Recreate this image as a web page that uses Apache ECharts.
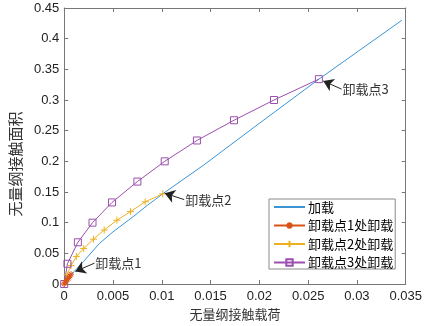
<!DOCTYPE html>
<html>
<head>
<meta charset="utf-8">
<script src="https://cdn.jsdelivr.net/npm/echarts@6/dist/echarts.min.js"></script>
<style>
  html, body { margin: 0; padding: 0; background: #fff; }
  #main { width: 425px; height: 326px; }
</style>
</head>
<body>
<div id="main"></div>
<script>
// loading curve
const loadX = [0, 0.0005, 0.001, 0.002, 0.0036, 0.005, 0.007, 0.0085, 0.0101, 0.0143, 0.02, 0.0261, 0.0346]
const loadY = [0, 0.011, 0.02, 0.037, 0.066, 0.085, 0.109, 0.128, 0.147, 0.194, 0.262, 0.334, 0.43]
// unloading at point 1
const un1X = [0, 0.0001, 0.0002, 0.0003, 0.0004, 0.0005, 0.0006, 0.0007]
const un1Y = [0, 0.003, 0.005, 0.007, 0.009, 0.011, 0.013, 0.016]
// unloading at point 2
const un2X = [0, 0.0003, 0.0007, 0.00125, 0.002, 0.003, 0.0041, 0.0054, 0.0068, 0.0083, 0.0101]
const un2Y = [0, 0.015, 0.03, 0.045, 0.058, 0.073, 0.088, 0.104, 0.118, 0.134, 0.147]
// unloading at point 3
const un3X = [0, 0.00033, 0.0014, 0.0029, 0.0049, 0.0075, 0.0103, 0.0136, 0.0174, 0.0215, 0.0261]
const un3Y = [0, 0.033, 0.068, 0.1, 0.133, 0.167, 0.2, 0.234, 0.267, 0.3, 0.334]
// annotations: [tailX, tailY, tipX, tipY, text]
const notes = [
  [0.0031, 0.034, 0.00115, 0.0205, '卸载点1'],
  [0.0123, 0.1376, 0.0103, 0.148, '卸载点2'],
  [0.02843, 0.3177, 0.02655, 0.331, '卸载点3']
]
const seriesNames = ['加载', '卸载点1处卸载', '卸载点2处卸载', '卸载点3处卸载']

const zip = (xs, ys) => xs.map((x, i) => [x, ys[i]])
const cjk = '"Noto Sans CJK SC", sans-serif'
const latin = '"Liberation Sans", Arial, sans-serif'
const axisGray = '#777'

const myChart = echarts.init(document.getElementById('main'))
const option = {
  animation: false,
  grid: { left: 50, right: 19, top: 8, bottom: 39 },
  legend: {
    data: [
      { name: seriesNames[0], itemStyle: { opacity: 0 } },
      seriesNames[1], seriesNames[2], seriesNames[3]
    ],
    orient: 'vertical',
    left: 269,
    top: 199,
    itemWidth: 31,
    itemHeight: 8,
    itemGap: 5.5,
    padding: [1.5, 2, 0, 4],
    backgroundColor: '#fff',
    borderColor: '#8a8a8a',
    borderWidth: 1,
    borderRadius: 0,
    textStyle: { fontFamily: cjk, fontSize: 13, color: '#000', padding: [0, 0, 0, -2] }
  },
  xAxis: [
    {
      type: 'value',
      min: 0,
      max: 0.035,
      interval: 0.005,
      name: '无量纲接触载荷',
      nameLocation: 'middle',
      nameGap: 24,
      nameTextStyle: { fontFamily: cjk, fontSize: 13, color: '#333' },
      axisLine: { show: true, onZero: false, lineStyle: { color: axisGray } },
      axisTick: { inside: true, length: 4, lineStyle: { color: axisGray } },
      axisLabel: { fontFamily: latin, fontSize: 13, color: '#222', margin: 6 },
      splitLine: { show: false }
    },
    {
      type: 'value',
      position: 'top',
      min: 0,
      max: 0.035,
      interval: 0.005,
      axisLine: { show: true, onZero: false, lineStyle: { color: axisGray } },
      axisTick: { inside: true, length: 4, lineStyle: { color: axisGray } },
      axisLabel: { show: false },
      splitLine: { show: false }
    }
  ],
  yAxis: [
    {
      type: 'value',
      min: 0,
      max: 0.45,
      interval: 0.05,
      name: '无量纲接触面积',
      nameLocation: 'middle',
      nameGap: 37,
      nameTextStyle: { fontFamily: cjk, fontSize: 15, color: '#333', padding: [0, 36, 0, 0] },
      axisLine: { show: true, onZero: false, lineStyle: { color: axisGray } },
      axisTick: { inside: true, length: 4, lineStyle: { color: axisGray } },
      axisLabel: { fontFamily: latin, fontSize: 13, color: '#222', margin: 5 },
      splitLine: { show: false }
    },
    {
      type: 'value',
      position: 'right',
      min: 0,
      max: 0.45,
      interval: 0.05,
      axisLine: { show: true, onZero: false, lineStyle: { color: axisGray } },
      axisTick: { inside: true, length: 4, lineStyle: { color: axisGray } },
      axisLabel: { show: false },
      splitLine: { show: false }
    }
  ],
  series: [
    {
      name: seriesNames[0],
      type: 'line',
      color: '#3b95d3',
      showSymbol: false,
      symbol: 'none',
      lineStyle: { color: '#3b95d3', width: 1 },
      data: zip(loadX, loadY),
      z: 2
    },
    {
      name: seriesNames[1],
      type: 'line',
      color: '#D95319',
      symbol: 'path://M0,5L10,5M5,0L5,10M1.5,1.5L8.5,8.5M8.5,1.5L1.5,8.5',
      symbolSize: 6,
      itemStyle: { color: 'rgba(0,0,0,0)', borderColor: '#D95319', borderWidth: 1 },
      lineStyle: { color: '#D95319', width: 1 },
      data: zip(un1X, un1Y),
      z: 4
    },
    {
      name: seriesNames[2],
      type: 'line',
      color: '#EDB120',
      symbol: 'path://M0,5L10,5M5,0L5,10',
      symbolSize: 7,
      itemStyle: { color: 'rgba(0,0,0,0)', borderColor: '#EDB120', borderWidth: 1 },
      lineStyle: { color: '#EDB120', width: 1 },
      data: zip(un2X, un2Y),
      z: 3
    },
    {
      name: seriesNames[3],
      type: 'line',
      color: '#9b4fae',
      symbol: 'rect',
      symbolSize: 7,
      itemStyle: { color: 'rgba(0,0,0,0)', borderColor: '#9b4fae', borderWidth: 1 },
      lineStyle: { color: '#9b4fae', width: 1 },
      data: zip(un3X, un3Y),
      z: 3
    },
    {
      name: 'notes',
      type: 'line',
      data: [],
      z: 5,
      markLine: {
        silent: true,
        symbol: ['none', 'arrow'],
        symbolSize: 10,
        lineStyle: { color: '#222', width: 1, type: 'solid' },
        itemStyle: { color: '#000' },
        label: {
          show: true,
          position: 'start',
          distance: 1,
          fontFamily: cjk,
          fontSize: 13,
          color: '#333'
        },
        data: notes.map(n => [
          { coord: [n[0], n[1]], label: { formatter: n[4] } },
          { coord: [n[2], n[3]] }
        ])
      }
    }
  ]
}
myChart.setOption(option)
</script>
</body>
</html>
